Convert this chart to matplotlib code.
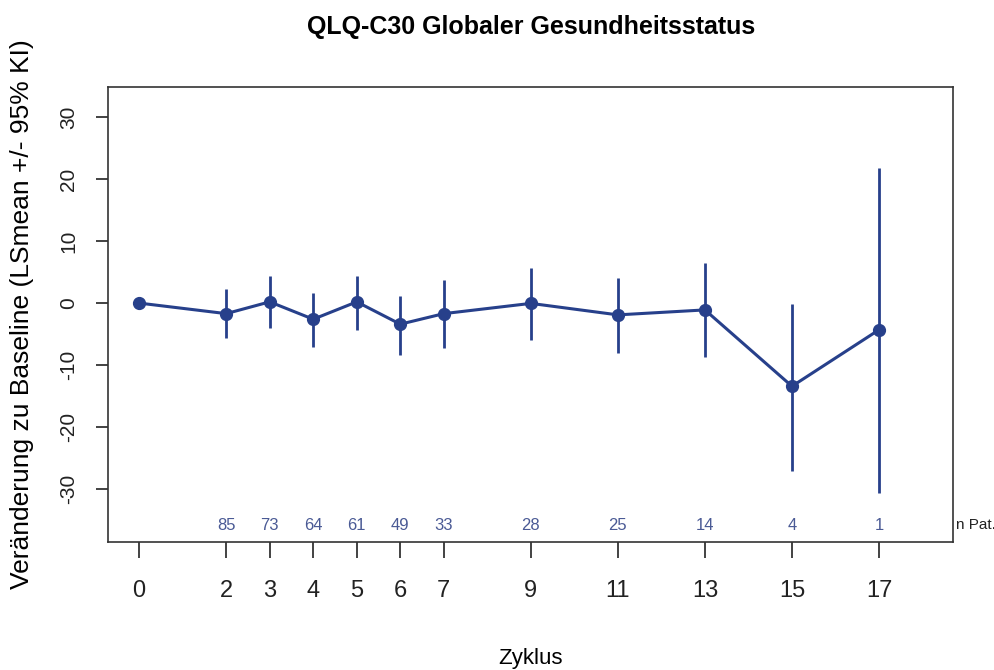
import matplotlib
matplotlib.use('Agg')
import matplotlib.pyplot as plt
from matplotlib import font_manager

# Data
zyklus = [0, 2, 3, 4, 5, 6, 7, 9, 11, 13, 15, 17]
lsmean = [0.0, -1.7, 0.2, -2.6, 0.2, -3.4, -1.7, -0.05, -1.9, -1.1, -13.4, -4.3]
ci_lower = [0.0, -5.6, -4.0, -7.0, -4.3, -8.3, -7.2, -5.9, -8.1, -8.7, -27.0, -30.6]
ci_upper = [0.0, 2.2, 4.3, 1.7, 4.4, 1.2, 3.7, 5.6, 4.0, 6.5, -0.1, 21.8]
n_pat = ['', '85', '73', '64', '61', '49', '33', '28', '25', '14', '4', '1']
y_ticks = [-30, -20, -10, 0, 10, 20, 30]

line_col = '#27408B'   # royalblue4
n_col = '#4a5a95'

installed = {f.name for f in font_manager.fontManager.ttflist}
narrow = 'Liberation Sans Narrow' if 'Liberation Sans Narrow' in installed else 'Liberation Sans'
regular = 'Liberation Sans'

fig = plt.figure(figsize=(9.95, 6.70), dpi=100)
ax = fig.add_axes([0.1088, 0.191, 0.849, 0.679])

# error bars (vertical lines) and the mean line
ax.vlines(zyklus, ci_lower, ci_upper, color=line_col, linewidth=2.0)
ax.plot(zyklus, lsmean, color=line_col, linewidth=2.2, marker='o', markersize=8.5)

ax.set_xlim(-0.71, 18.7)
ax.set_ylim(-38.5, 34.8)

ax.set_xticks(zyklus)
ax.set_xticklabels([str(z) for z in zyklus], fontsize=17, family=narrow)
ax.set_yticks(y_ticks)
ax.set_yticklabels([str(v) for v in y_ticks], fontsize=15, family=regular,
                   rotation=90, va='center')

ax.tick_params(axis='x', length=11.5, width=1.2, pad=16, colors='#222222')
ax.tick_params(axis='y', length=8.6, width=1.2, pad=13, colors='#222222')
for s in ax.spines.values():
    s.set_linewidth(1.2)
    s.set_color('#333333')

# number of patients per cycle
for z, n in zip(zyklus, n_pat):
    ax.text(z, -35.8, n, ha='center', va='center', fontsize=12,
            family=narrow, color=n_col)
ax.text(1.003, -35.8, 'n Pat.', transform=ax.get_yaxis_transform(),
        ha='left', va='center', fontsize=11, family=narrow, color='#222222')

ax.set_title('QLQ-C30 Globaler Gesundheitsstatus', fontsize=18,
             fontweight='bold', family=narrow, pad=38)
ax.set_xlabel('Zyklus', fontsize=16, family=narrow, labelpad=33)
ax.set_ylabel('Veränderung zu Baseline (LSmean +/- 95% KI)', fontsize=19,
              family=regular, labelpad=18)

fig.savefig('out.png', dpi=100)
